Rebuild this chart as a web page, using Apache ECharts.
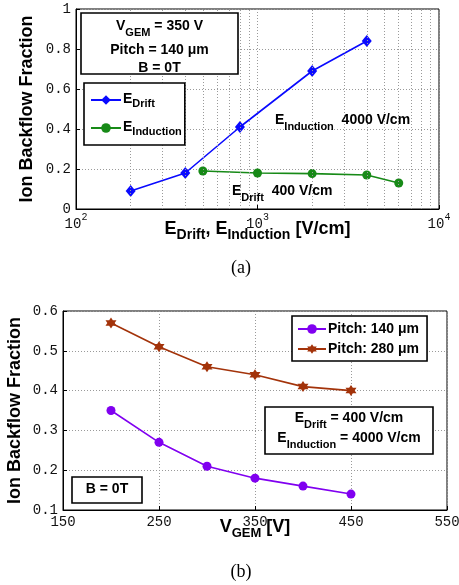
<!DOCTYPE html>
<html>
<head>
<meta charset="utf-8">
<script src="https://cdn.jsdelivr.net/npm/echarts@6/dist/echarts.min.js"></script>
<style>
  html, body { margin: 0; padding: 0; background: #fff; }
  #chart { width: 459px; height: 585px; }
</style>
</head>
<body>
<div id="chart"></div>
<script>
// ---------- Data: panel (a) ----------
const driftField = [200, 400, 800, 2000, 4000];          // E_Drift [V/cm]
const driftIBF = [0.09, 0.18, 0.41, 0.69, 0.84];
const inductionField = [500, 1000, 2000, 4000, 6000];    // E_Induction [V/cm]
const inductionIBF = [0.19, 0.18, 0.177, 0.17, 0.13];
const logMinorTicks = [200, 300, 400, 500, 600, 700, 800, 900, 2000, 3000, 4000, 5000, 6000, 7000, 8000, 9000];

// ---------- Data: panel (b) ----------
const vgem = [200, 250, 300, 350, 400, 450];             // V_GEM [V]
const pitch140IBF = [0.35, 0.27, 0.21, 0.18, 0.16, 0.14];
const pitch280IBF = [0.57, 0.51, 0.46, 0.44, 0.41, 0.40];
const vgemAxisMin = 150, vgemAxisMax = 550, vgemStep = 100;  // tick labels 150,250,...,550

const SANS = '"Liberation Sans", Arial, Helvetica, sans-serif';
const MONO = '"Liberation Mono", "DejaVu Sans Mono", monospace';
const SERIF = '"Liberation Serif", "Times New Roman", serif';
const GRID_LINE = { color: '#9a9a9a', width: 1, type: [1, 2] };

function subRich(size, subSize, drop) {
  return {
    m: { fontFamily: SANS, fontWeight: 'bold', fontSize: size, lineHeight: size + 2, verticalAlign: 'top', color: '#000' },
    s: { fontFamily: SANS, fontWeight: 'bold', fontSize: subSize, lineHeight: subSize + 2, padding: [drop, 0, 0, 0], verticalAlign: 'top', color: '#000' }
  };
}

const chart = echarts.init(document.getElementById('chart'), null, { renderer: 'canvas' });

const tickLabel = { fontFamily: MONO, fontSize: 14, color: '#111' };

function textEl(x, y, text, rich, align) {
  return { type: 'text', x: x, y: y, z: 100,
    style: { text: text, rich: rich, align: align || 'center', verticalAlign: 'top', fill: '#000' } };
}
function boxEl(x, y, w, h) {
  return { type: 'rect', z: 99, shape: { x: x, y: y, width: w, height: h },
    style: { fill: '#fff', stroke: '#000', lineWidth: 1.6 } };
}
const r14 = subRich(14, 11, 8);

const option = {
  animation: false,
  backgroundColor: '#fff',
  grid: [
    { left: 76, top: 9, width: 363, height: 200, show: true, borderColor: '#000', borderWidth: 1, backgroundColor: 'transparent', outerBoundsMode: 'none' },
    { left: 63, top: 311, width: 384, height: 199, show: true, borderColor: '#000', borderWidth: 1, backgroundColor: 'transparent', outerBoundsMode: 'none' }
  ],
  xAxis: [
    {
      gridIndex: 0, type: 'log', logBase: 10, min: 100, max: 10000,
      axisLine: { show: true, lineStyle: { color: '#000' } },
      axisTick: { show: true, inside: true, length: 4, lineStyle: { color: '#000' } },
      splitLine: { show: true, lineStyle: GRID_LINE },
      axisLabel: {
        margin: 3,
        formatter: function (v) { return '{b|10}{p|' + Math.round(Math.log10(v)) + '}'; },
        rich: {
          b: { fontFamily: MONO, fontSize: 14, lineHeight: 14, padding: [5, 0, 0, 0], verticalAlign: 'top', color: '#111' },
          p: { fontFamily: MONO, fontSize: 10, lineHeight: 10, verticalAlign: 'top', color: '#111' }
        }
      },
      name: '{m|E}{s|Drift}{m|, E}{s|Induction}{m| [V/cm]}',
      nameLocation: 'middle', nameGap: 11, nameMoveOverlap: false,
      nameTextStyle: { rich: subRich(18, 14, 8) }
    },
    {
      gridIndex: 1, type: 'value', min: 0, max: vgemAxisMax - vgemAxisMin, interval: vgemStep,
      axisLine: { show: true, lineStyle: { color: '#000' } },
      axisTick: { show: true, inside: true, length: 4, lineStyle: { color: '#000' } },
      splitLine: { show: true, lineStyle: GRID_LINE },
      axisLabel: Object.assign({ margin: 5, formatter: function (v) { return String(v + vgemAxisMin); } }, tickLabel),
      name: '{m|V}{s|GEM}{m| [V]}',
      nameLocation: 'middle', nameGap: 8, nameMoveOverlap: false,
      nameTextStyle: { rich: subRich(18, 13, 9) }
    }
  ],
  yAxis: [
    {
      gridIndex: 0, type: 'value', min: 0, max: 1, interval: 0.2,
      axisLine: { show: true, lineStyle: { color: '#000' } },
      axisTick: { show: true, inside: true, length: 4, lineStyle: { color: '#000' } },
      splitLine: { show: true, lineStyle: GRID_LINE },
      axisLabel: Object.assign({ margin: 5 }, tickLabel),
      name: 'Ion Backflow Fraction', nameLocation: 'middle', nameGap: 40, nameMoveOverlap: false,
      nameTextStyle: { fontFamily: SANS, fontWeight: 'bold', fontSize: 18, color: '#000' }
    },
    {
      gridIndex: 1, type: 'value', min: 0.1, max: 0.6, interval: 0.1,
      axisLine: { show: true, lineStyle: { color: '#000' } },
      axisTick: { show: true, inside: true, length: 4, lineStyle: { color: '#000' } },
      splitLine: { show: true, lineStyle: GRID_LINE },
      axisLabel: Object.assign({ margin: 5, formatter: function (v) { return v.toFixed(1); } }, tickLabel),
      name: 'Ion Backflow Fraction', nameLocation: 'middle', nameGap: 39, nameMoveOverlap: false,
      nameTextStyle: { fontFamily: SANS, fontWeight: 'bold', fontSize: 18, color: '#000' }
    }
  ],
  legend: [
    {
      data: ['E_Drift', 'E_Induction'], orient: 'vertical', left: 84, top: 83,
      itemWidth: 30, itemHeight: 12, itemGap: 11,
      padding: [9, 3, 8, 6], borderColor: '#000', borderWidth: 1.6, backgroundColor: '#fff',
      selectedMode: false, z: 100,
      formatter: function (n) { return n === 'E_Drift' ? '{m|E}{s|Drift}' : '{m|E}{s|Induction}'; },
      textStyle: { rich: subRich(14, 11, 6), padding: [0, 0, 0, -3] }
    },
    {
      data: ['Pitch: 140 μm', 'Pitch: 280 μm'], orient: 'vertical', left: 292, top: 316,
      itemWidth: 28, itemHeight: 12, itemGap: 6,
      padding: [6, 8, 5, 5], borderColor: '#000', borderWidth: 1.6, backgroundColor: '#fff',
      selectedMode: false, z: 100,
      textStyle: { fontFamily: SANS, fontWeight: 'bold', fontSize: 14, color: '#000', padding: [0, 0, 0, -3] }
    }
  ],
  series: [
    {
      name: 'E_Drift', type: 'line', xAxisIndex: 0, yAxisIndex: 0,
      data: driftField.map(function (x, i) { return [x, driftIBF[i]]; }),
      color: '#0a0aff', lineStyle: { width: 1.6, color: '#0a0aff' },
      symbol: 'diamond', symbolSize: [10, 12], itemStyle: { color: '#0a0aff' }
    },
    {
      name: 'E_Induction', type: 'line', xAxisIndex: 0, yAxisIndex: 0,
      data: inductionField.map(function (x, i) { return [x, inductionIBF[i]]; }),
      color: '#178a17', lineStyle: { width: 1.6, color: '#178a17' },
      symbol: 'circle', symbolSize: 9, itemStyle: { color: '#178a17' }
    },
    {
      name: 'minorGrid', type: 'line', xAxisIndex: 0, yAxisIndex: 0, data: [], silent: true,
      markLine: {
        silent: true, symbol: 'none', label: { show: false },
        lineStyle: GRID_LINE, emphasis: { disabled: true },
        data: logMinorTicks.map(function (t) { return { xAxis: t }; })
      }
    },
    {
      name: 'Pitch: 140 μm', type: 'line', xAxisIndex: 1, yAxisIndex: 1,
      data: vgem.map(function (v, i) { return [v - vgemAxisMin, pitch140IBF[i]]; }),
      color: '#8000f0', lineStyle: { width: 1.6, color: '#8000f0' },
      symbol: 'circle', symbolSize: 9, itemStyle: { color: '#8000f0' }
    },
    {
      name: 'Pitch: 280 μm', type: 'line', xAxisIndex: 1, yAxisIndex: 1,
      data: vgem.map(function (v, i) { return [v - vgemAxisMin, pitch280IBF[i]]; }),
      color: '#a3330a', lineStyle: { width: 1.6, color: '#a3330a' },
      symbol: 'path://M10 0L12.885 5L18.66 5L15.77 10L18.66 15L12.885 15L10 20L7.115 15L1.34 15L4.23 10L1.34 5L7.115 5Z',
      symbolSize: 11, itemStyle: { color: '#a3330a' }
    }
  ],
  graphic: [
    // panel (a) info box
    boxEl(81, 13, 157, 61),
    textEl(159.5, 19, '{m|V}{s|GEM}{m| = 350 V}', r14),
    textEl(159.5, 43, '{m|Pitch = 140 μm}', r14),
    textEl(159.5, 61, '{m|B = 0T}', r14),
    // panel (a) annotations
    textEl(275, 113, '{m|E}{s|Induction}{m|  4000 V/cm}', r14, 'left'),
    textEl(232, 184, '{m|E}{s|Drift}{m|  400 V/cm}', r14, 'left'),
    // captions
    { type: 'text', x: 241, y: 268, style: { text: '(a)', font: '18px ' + SERIF, fill: '#000', align: 'center', verticalAlign: 'middle' } },
    { type: 'text', x: 241, y: 572, style: { text: '(b)', font: '18px ' + SERIF, fill: '#000', align: 'center', verticalAlign: 'middle' } },
    // panel (b) boxes
    boxEl(265, 407, 168, 47),
    textEl(349, 411, '{m|E}{s|Drift}{m| = 400 V/cm}', r14),
    textEl(349, 431, '{m|E}{s|Induction}{m| = 4000 V/cm}', r14),
    boxEl(72, 477, 70, 26),
    textEl(107, 482, '{m|B = 0T}', r14)
  ]
};
chart.setOption(option);
</script>
</body>
</html>
